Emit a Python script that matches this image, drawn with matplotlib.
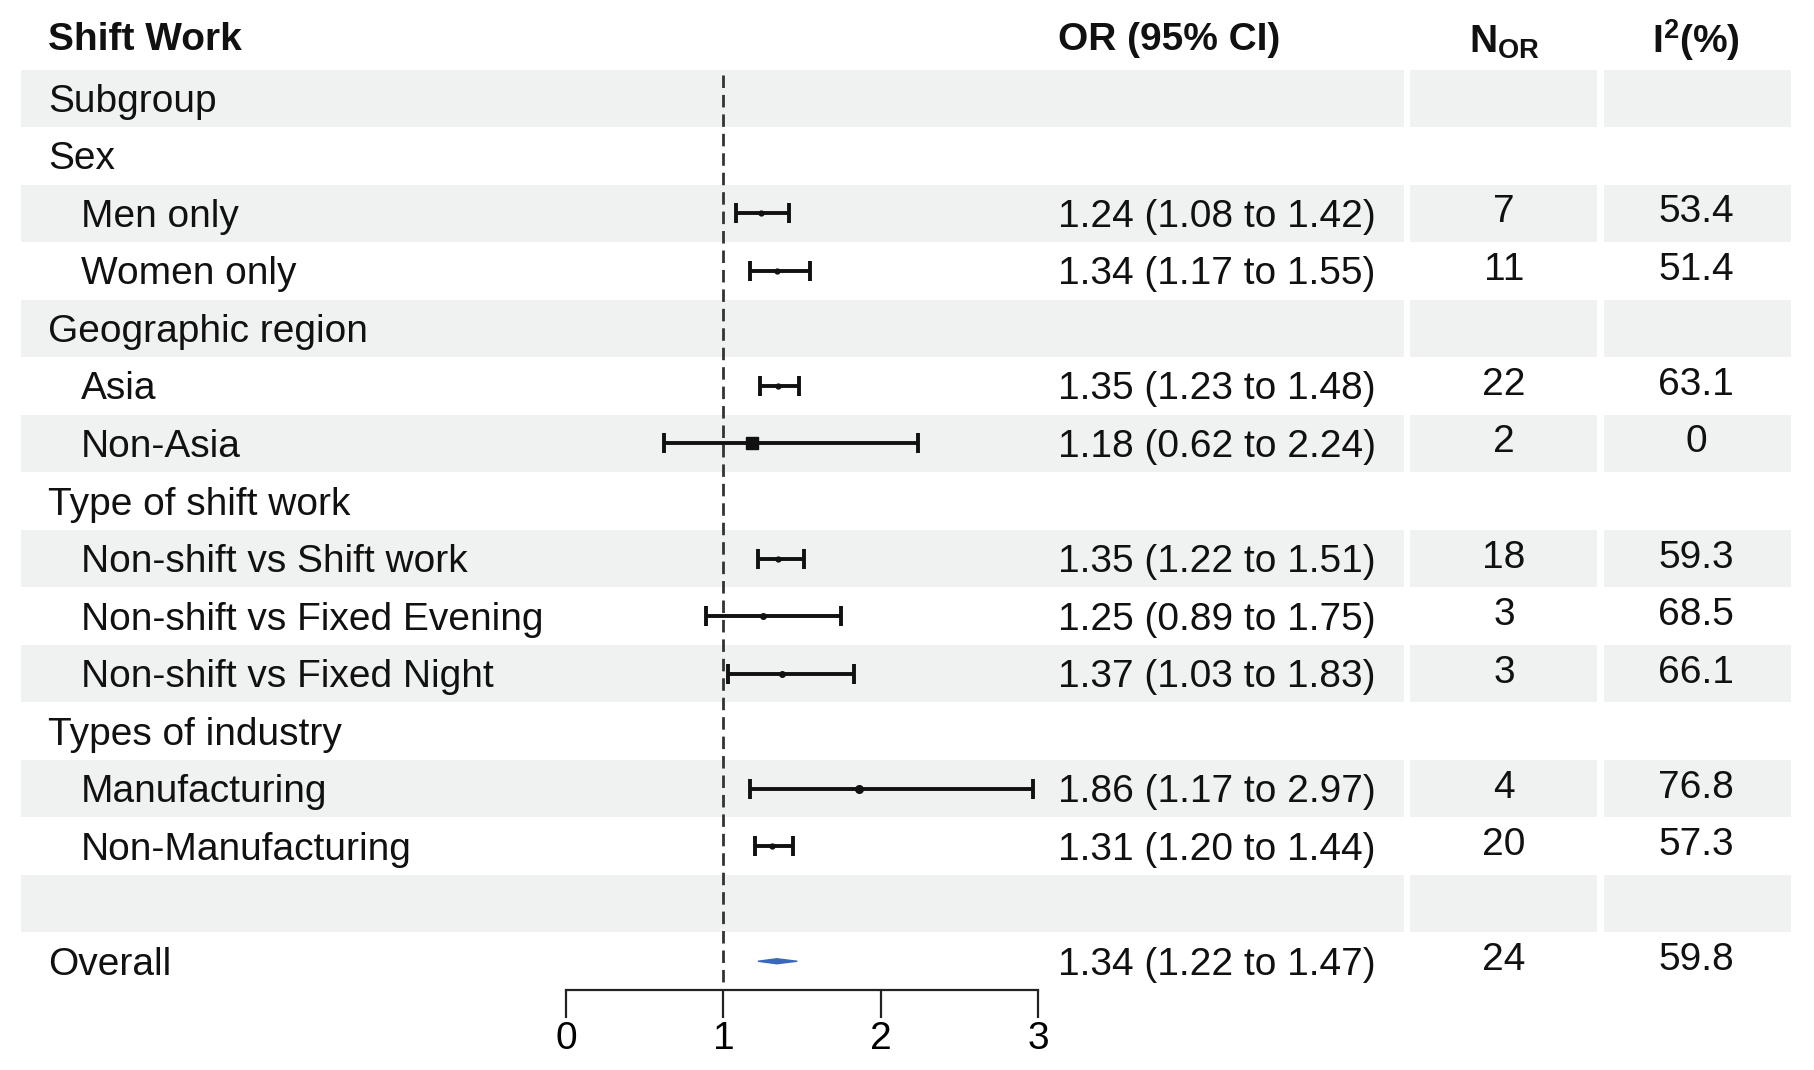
import matplotlib.pyplot as plt
from matplotlib.patches import Polygon

plt.rcParams['font.family'] = ['Liberation Sans', 'DejaVu Sans']
plt.rcParams['mathtext.fontset'] = 'custom'
plt.rcParams['mathtext.rm'] = 'Liberation Sans'
plt.rcParams['mathtext.bf'] = 'Liberation Sans:bold'

# 数据
labels = ['Subgroup', 'Sex', 'Men only', 'Women only', 'Geographic region', 'Asia', 'Non-Asia',
          'Type of shift work', 'Non-shift vs Shift work', 'Non-shift vs Fixed Evening',
          'Non-shift vs Fixed Night', 'Types of industry', 'Manufacturing', 'Non-Manufacturing',
          '', 'Overall']
indent = [0, 0, 1, 1, 0, 1, 1, 0, 1, 1, 1, 0, 1, 1, 0, 0]
est = [None, None, 1.24, 1.34, None, 1.35, 1.18, None, 1.35, 1.25, 1.37, None, 1.86, 1.31, None, 1.34]
lo = [None, None, 1.08, 1.17, None, 1.23, 0.62, None, 1.22, 0.89, 1.03, None, 1.17, 1.20, None, 1.22]
hi = [None, None, 1.42, 1.55, None, 1.48, 2.24, None, 1.51, 1.75, 1.83, None, 2.97, 1.44, None, 1.47]
n_or = ['', '', '7', '11', '', '22', '2', '', '18', '3', '3', '', '4', '20', '', '24']
i2 = ['', '', '53.4', '51.4', '', '63.1', '0', '', '59.3', '68.5', '66.1', '', '76.8', '57.3', '', '59.8']
# 点的大小（样式）
box = [0, 0, 3.5, 3.5, 0, 3.5, 8, 0, 3.5, 4, 4, 0, 5.5, 3.5, 0, 0]

W, H = 1814, 1070
fig = plt.figure(figsize=(W / 100, H / 100), dpi=100)
bg = fig.add_axes([0, 0, 1, 1])
bg.set_xlim(0, W)
bg.set_ylim(H, 0)
bg.axis('off')

y0, dy = 98.3, 57.53
rows = [y0 + i * dy for i in range(len(labels))]
fs = 28
tc = '#111111'

# 背景条纹
for i, y in enumerate(rows):
    if i % 2 == 0:
        for x1, x2 in [(21, 1404), (1410, 1597), (1604, 1791)]:
            bg.fill_between([x1, x2], y - dy / 2 + 0.5, y + dy / 2 - 0.5, color='#f0f2f1', lw=0)

# 表头
hy = 40
bg.text(48, hy, 'Shift Work', fontsize=fs, fontweight='bold', va='center', color=tc)
bg.text(1058, hy, 'OR (95% CI)', fontsize=fs, fontweight='bold', va='center', color=tc)
bg.text(1504, hy + 2, r'$\mathbf{N}_{\mathbf{OR}}$', fontsize=fs, va='center', ha='center', color=tc)
bg.text(1696, hy, r'$\mathbf{I}^{\mathbf{2}}\mathbf{(\%)}$', fontsize=fs, va='center', ha='center', color=tc)

for i, y in enumerate(rows):
    x = 81 if indent[i] else 48
    bg.text(x, y + 3.5, labels[i], fontsize=fs, va='center', color=tc)
    if est[i] is not None:
        bg.text(1058, y + 3.5, '%.2f (%.2f to %.2f)' % (est[i], lo[i], hi[i]), fontsize=fs, va='center', color=tc)
    bg.text(1504, y - 1, n_or[i], fontsize=fs, va='center', ha='center', color=tc)
    bg.text(1696, y - 1, i2[i], fontsize=fs, va='center', ha='center', color=tc)

# 森林图
ax_bottom = 990
fa = fig.add_axes([566 / W, 1 - ax_bottom / H, (1038 - 566) / W, ax_bottom / H])
fa.set_xlim(0, 3)
fa.set_ylim(ax_bottom, 0)
fa.patch.set_visible(False)
for s in ['top', 'left', 'right']:
    fa.spines[s].set_visible(False)
fa.spines['bottom'].set_linewidth(1.6)
fa.spines['bottom'].set_color('#222222')
fa.set_yticks([])
fa.set_xticks([0, 1, 2, 3])
fa.tick_params(axis='x', length=20, width=1.6, color='#222222', labelsize=fs, pad=2)

fa.plot([1, 1], [75, ax_bottom], ls=(0, (4.5, 2.5)), color='#333333', lw=2)

for i, y in enumerate(rows):
    if est[i] is None or labels[i] == 'Overall':
        continue
    fa.errorbar(est[i], y, xerr=[[est[i] - lo[i]], [hi[i] - est[i]]], fmt='none',
                ecolor=tc, elinewidth=2.8, capsize=7, capthick=2.8)
    mk = 's' if box[i] > 6 else 'o'
    fa.plot(est[i], y, marker=mk, ms=box[i], color=tc, mec=tc)

i = labels.index('Overall')
y = rows[i]
dia = Polygon([(lo[i], y), (est[i], y - 2.5), (hi[i], y), (est[i], y + 2.5)],
              closed=True, facecolor='#3a68bb', edgecolor='#3a68bb', lw=1)
fa.add_patch(dia)

fig.savefig('out.png', dpi=100)
